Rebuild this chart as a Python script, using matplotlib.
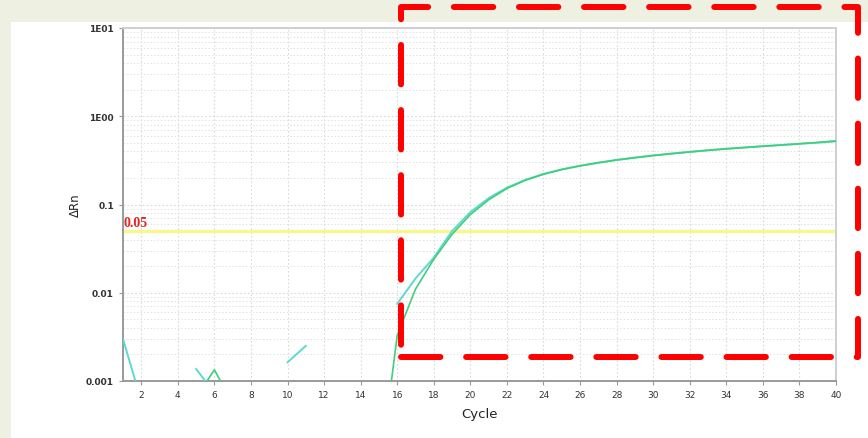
import numpy as np
import matplotlib
matplotlib.use("Agg")
import matplotlib.pyplot as plt
from matplotlib.patches import Rectangle
from matplotlib.ticker import FixedLocator, NullFormatter

# amplification data (delta Rn per cycle), nan = not shown (negative / no data)
cycles = list(range(1, 41))
nan = np.nan
cyan_rn = [0.003, 0.00059, nan, nan, 0.00137, 0.00073, nan, nan, nan, 0.00163,
           0.0025, nan, nan, nan, nan, 0.0075, 0.0145, 0.025, 0.05, 0.082,
           0.118, 0.155, 0.19, 0.222, 0.25, 0.275, 0.298, 0.32, 0.34, 0.36,
           0.378, 0.395, 0.412, 0.428, 0.443, 0.458, 0.472, 0.487, 0.502, 0.52]
green_rn = [nan, nan, nan, nan, 0.00065, 0.00134, 0.00055, nan, nan, nan,
            nan, nan, nan, nan, 0.000077, 0.0033, 0.011, 0.024, 0.046, 0.077,
            0.113, 0.152, 0.188, 0.22, 0.249, 0.274, 0.297, 0.319, 0.339, 0.358,
            0.376, 0.394, 0.411, 0.427, 0.442, 0.457, 0.472, 0.488, 0.505, 0.525]
threshold = 0.05

x_ticks = list(range(2, 41, 2))
y_ticks = [0.001, 0.01, 0.1, 1, 10]
y_labels = ["0.001", "0.01", "0.1", "1E00", "1E01"]

fig = plt.figure(figsize=(8.68, 4.39), dpi=100)
fig.patch.set_facecolor("#eef1e2")
# white panel behind the chart
fig.patches.append(Rectangle((11 / 868, 0), 1, 1 - 23 / 439, transform=fig.transFigure,
                             facecolor="white", edgecolor="none", zorder=-10))

ax = fig.add_axes([123 / 868, 1 - 382 / 439, (836 - 123) / 868, (382 - 29) / 439])
ax.set_facecolor("white")
ax.set_yscale("log")
ax.set_xlim(1, 40)
ax.set_ylim(0.001, 10)

ax.plot(cycles, cyan_rn, color="#5fd8d2", lw=1.4, zorder=3)
ax.plot(cycles, green_rn, color="#3fcf78", lw=1.2, zorder=3)
ax.axhline(threshold, color="#f7f78c", lw=2.4, zorder=2)
ax.text(1.05, threshold * 1.06, "0.05", color="#e02424", fontsize=10, fontweight="bold",
        family="Liberation Serif", va="bottom", ha="left", zorder=4)

ax.xaxis.set_major_locator(FixedLocator(x_ticks))
ax.yaxis.set_major_locator(FixedLocator(y_ticks))
ax.set_yticklabels(y_labels)
ax.yaxis.set_minor_formatter(NullFormatter())
ax.tick_params(axis="both", labelsize=6.5, length=3, width=0.8)
ax.tick_params(axis="y", which="minor", length=0)
ax.tick_params(axis="x", colors="#999999", labelcolor="#333333")
ax.tick_params(axis="y", colors="#999999", labelcolor="#333333")
for lbl in ax.get_yticklabels():
    lbl.set_fontweight("bold")

ax.grid(True, which="major", color="#dadada", linestyle=(0, (1.5, 2)), lw=0.8)
ax.grid(True, which="minor", axis="y", color="#e2e2e2", linestyle=(0, (1.5, 2)), lw=0.7)

for side in ["left", "bottom"]:
    ax.spines[side].set_color("#9a9a9a")
    ax.spines[side].set_linewidth(1.4)
for side in ["top", "right"]:
    ax.spines[side].set_color("#cfcfcf")
    ax.spines[side].set_linewidth(1.4)

ax.set_xlabel("Cycle", fontsize=9.5, color="#222222", labelpad=6)
ax.set_ylabel("ΔRn", fontsize=8.5, color="#222222", labelpad=3)

# red dashed highlight box
box = Rectangle((401 / 868, 1 - 358 / 439), (858 - 401) / 868, (358 - 8) / 439,
                transform=fig.transFigure, fill=False, edgecolor="#ff0000", lw=4.3,
                linestyle=(0, (6.6, 4.3)), capstyle="round", joinstyle="round", zorder=10)
fig.patches.append(box)

fig.savefig("out.png", dpi=100)
